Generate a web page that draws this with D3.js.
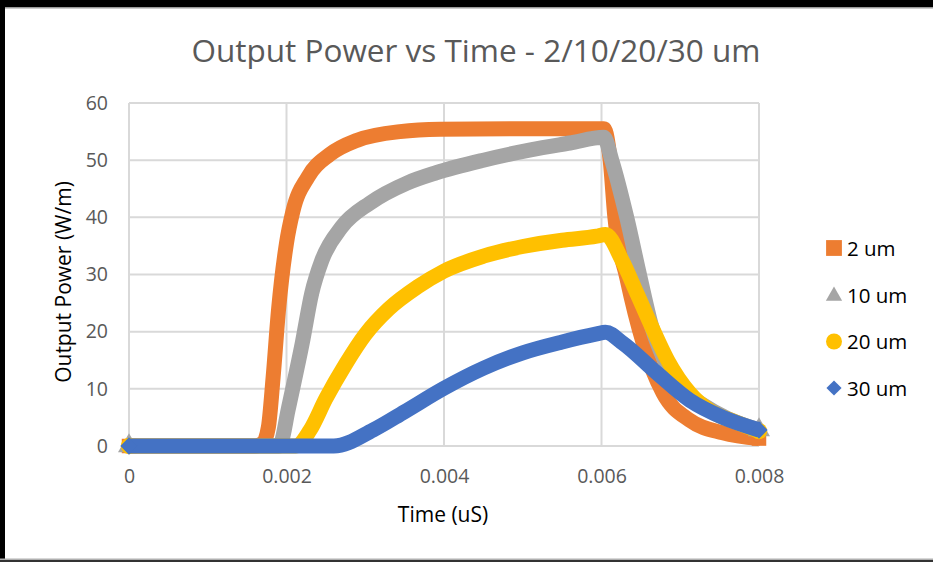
<!DOCTYPE html>
<html>
<head>
<meta charset="utf-8">
<script src="https://cdn.jsdelivr.net/npm/d3@7"></script>
<style>
  html, body { margin: 0; padding: 0; background: #fff; }
  svg { display: block; }
  text { font-family: "Open Sans", Lato, sans-serif; }
</style>
</head>
<body>
<svg id="chart" width="933" height="562"></svg>
<script>
// Output power (W/m) against time for four widths
const t2um  = [0, 0.0016, 0.0017, 0.00177, 0.00183, 0.0019, 0.0020, 0.00208, 0.00227, 0.00255, 0.0029, 0.00344, 0.00395, 0.0050, 0.00603, 0.00611, 0.00617, 0.00632, 0.00653, 0.00678, 0.00712, 0.00754, 0.008];
const p2um  = [0, 0, 0.5, 3.3, 12, 24, 35.5, 41, 47, 51, 53.5, 55, 55.4, 55.5, 55.5, 50, 40, 29.5, 18, 9.3, 4.5, 2.3, 1.3];

const t10um = [0, 0.0019, 0.00193, 0.00202, 0.0022, 0.00232, 0.00245, 0.0027, 0.00306, 0.00353, 0.0039, 0.0045, 0.0051, 0.0056, 0.00603, 0.00613, 0.00632, 0.00649, 0.00664, 0.0068, 0.007, 0.00725, 0.0076, 0.008];
const p10um = [0, 0, 0.5, 6.3, 18, 26.7, 32.5, 38.3, 42.5, 46, 47.8, 50.0, 51.8, 53.0, 54, 50, 40, 29.5, 20.8, 15, 10, 7.5, 4.8, 2.8];

const t20um = [0, 0.00212, 0.0023, 0.0025, 0.00275, 0.003, 0.0033, 0.00366, 0.004, 0.0045, 0.005, 0.0055, 0.00594, 0.00605, 0.00626, 0.00645, 0.00664, 0.00684, 0.00712, 0.0074, 0.0077, 0.008];
const p20um = [0, 0, 2.8, 8.3, 14.3, 19.5, 24.0, 27.8, 30.6, 33.2, 34.9, 36.0, 36.7, 37, 32.5, 26.7, 20.8, 15, 9.3, 6, 4.2, 2.6];

const t30um = [0, 0.0026, 0.0031, 0.0035, 0.004, 0.0045, 0.005, 0.0055, 0.00594, 0.00605, 0.00627, 0.0067, 0.00712, 0.00754, 0.008];
const p30um = [0, 0, 2.8, 6.0, 10.1, 13.6, 16.3, 18.2, 19.6, 19.9, 18, 12.8, 8, 5, 2.8];

const seriesNames  = ["2 um", "10 um", "20 um", "30 um"];
const seriesColors = ["#ED7D31", "#A5A5A5", "#FFC000", "#4472C4"];
const xTicks = [0, 0.002, 0.004, 0.006, 0.008];
const xTickLabels = ["0", "0.002", "0.004", "0.006", "0.008"];
const yTicks = [0, 10, 20, 30, 40, 50, 60];

const chartTitle = "Output Power vs Time - 2/10/20/30 um";
const xTitle = "Time (uS)";
const yTitle = "Output Power (W/m)";

// square diamond (equal width and height)
const symbolRhomb = {
  draw(ctx, size) {
    const r = Math.sqrt(size / 2);
    ctx.moveTo(0, -r); ctx.lineTo(r, 0); ctx.lineTo(0, r); ctx.lineTo(-r, 0); ctx.closePath();
  }
};

const series = [
  { name: seriesNames[0], color: seriesColors[0], symbol: d3.symbolSquare,   legendSize: 250, t: t2um,  p: p2um },
  { name: seriesNames[1], color: seriesColors[1], symbol: d3.symbolTriangle, legendSize: 115, t: t10um, p: p10um },
  { name: seriesNames[2], color: seriesColors[2], symbol: d3.symbolCircle,   legendSize: 200, t: t20um, p: p20um },
  { name: seriesNames[3], color: seriesColors[3], symbol: symbolRhomb,       legendSize: 115, t: t30um, p: p30um }
];

const svg = d3.select("#chart");
const W = 933, H = 562;
const plot = { left: 129, right: 759, top: 103, bottom: 446 };

const x = d3.scaleLinear().domain([0, 0.008]).range([plot.left, plot.right]);
const y = d3.scaleLinear().domain([0, 60]).range([plot.bottom, plot.top]);

// frame
svg.append("rect").attr("x", 0).attr("y", 0).attr("width", W).attr("height", H).attr("fill", "#fff");
svg.append("rect").attr("x", 0).attr("y", 0).attr("width", W).attr("height", 7).attr("fill", "#000");
svg.append("rect").attr("x", 0).attr("y", 7).attr("width", W).attr("height", 1.5).attr("fill", "#9a9a9a");
svg.append("rect").attr("x", 0).attr("y", 0).attr("width", 5).attr("height", H).attr("fill", "#000");
svg.append("rect").attr("x", 0).attr("y", 558.5).attr("width", W).attr("height", 1.5).attr("fill", "#b0b0b0");
svg.append("rect").attr("x", 0).attr("y", 560).attr("width", W).attr("height", 2).attr("fill", "#333");

// title
svg.append("text")
  .attr("x", 476).attr("y", 62)
  .attr("text-anchor", "middle")
  .attr("font-size", 31.5)
  .attr("fill", "#595959")
  .text(chartTitle);

// gridlines
const grid = svg.append("g").attr("stroke", "#D9D9D9").attr("stroke-width", 2);
grid.selectAll("line.h").data(yTicks).join("line")
  .attr("class", "h")
  .attr("x1", plot.left).attr("x2", plot.right)
  .attr("y1", d => y(d)).attr("y2", d => y(d));
grid.selectAll("line.v").data(xTicks).join("line")
  .attr("class", "v")
  .attr("x1", d => x(d)).attr("x2", d => x(d))
  .attr("y1", plot.top).attr("y2", plot.bottom);

// axes (labels only)
const yAxis = d3.axisLeft(y).tickValues(yTicks).tickSize(0).tickPadding(21);
const gy = svg.append("g").attr("transform", `translate(${plot.left},0)`).call(yAxis);
gy.select(".domain").remove();
gy.selectAll("text").attr("font-size", 19.5).attr("fill", "#595959").attr("font-family", "'Open Sans', sans-serif");

const xAxis = d3.axisBottom(x).tickValues(xTicks).tickFormat((d, i) => xTickLabels[i]).tickSize(0).tickPadding(23);
const gx = svg.append("g").attr("transform", `translate(0,${plot.bottom})`).call(xAxis);
gx.select(".domain").remove();
gx.selectAll("text").attr("font-size", 19.5).attr("fill", "#595959").attr("font-family", "'Open Sans', sans-serif");

// axis titles
svg.append("text")
  .attr("x", 443).attr("y", 522)
  .attr("text-anchor", "middle")
  .attr("font-size", 21)
  .attr("fill", "#000")
  .text(xTitle);
svg.append("text")
  .attr("transform", `translate(71,282) rotate(-90)`)
  .attr("text-anchor", "middle")
  .attr("font-size", 21)
  .attr("fill", "#000")
  .text(yTitle);

// series: heavy marker-traced lines
const lineW = 15;
const line = d3.line().x(d => x(d[0])).y(d => y(d[1])).curve(d3.curveMonotoneX);
const gs = svg.append("g");
series.forEach(s => {
  const pts = s.t.map((tv, i) => [tv, s.p[i]]);
  gs.append("path")
    .attr("d", line(pts))
    .attr("fill", "none")
    .attr("stroke", s.color)
    .attr("stroke-width", lineW)
    .attr("stroke-linejoin", "round");
  [pts[0], pts[pts.length - 1]].forEach(pt => {
    gs.append("path")
      .attr("d", d3.symbol().type(s.symbol).size(s.symbol === symbolRhomb ? 150 : 210)())
      .attr("transform", `translate(${x(pt[0])},${y(pt[1])})`)
      .attr("fill", s.color);
  });
});

// legend
const legendRows = [248, 295, 341.5, 388];
const lg = svg.append("g");
series.forEach((s, i) => {
  lg.append("path")
    .attr("d", d3.symbol().type(s.symbol).size(s.legendSize)())
    .attr("transform", `translate(834,${legendRows[i] + (s.symbol === d3.symbolTriangle ? 1 : 0)})`)
    .attr("fill", s.color);
  lg.append("text")
    .attr("x", 847).attr("y", legendRows[i] + 7.5)
    .attr("font-size", 20.5)
    .attr("fill", "#000")
    .text(s.name);
});
</script>
</body>
</html>
